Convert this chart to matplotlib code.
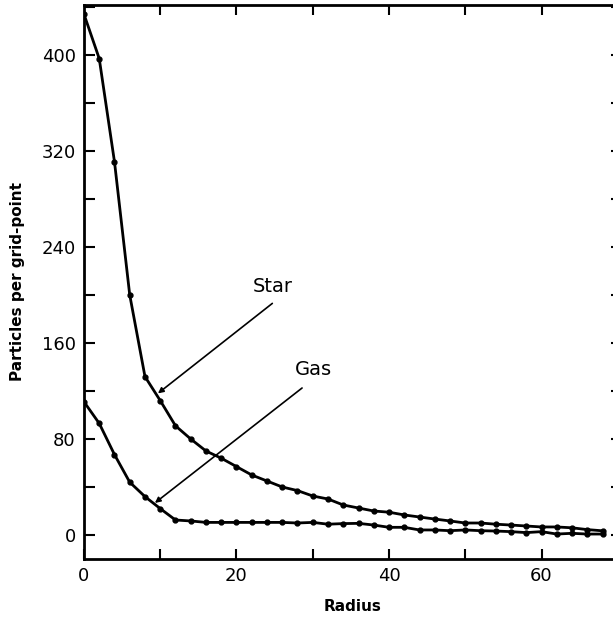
import matplotlib
matplotlib.use("Agg")
import matplotlib.pyplot as plt
import numpy as np

# Radius sampled every 2 grid units
radius = np.arange(0, 70, 2)

# Particles per grid-point
star = [434, 397, 311, 200, 132, 112, 91, 80, 70, 64,
        57, 50, 45, 40, 37, 32.5, 30, 25, 22.5, 20,
        19, 16.7, 15, 13.3, 11.7, 10, 10, 9, 8.3, 7.5,
        6.7, 6.7, 6, 4.5, 3.5]
gas = [111, 93, 67, 44, 32, 22, 12.5, 11.7, 10.5, 10.5,
       10.5, 10.5, 10.5, 10.5, 10, 10.5, 9, 9.5, 9.7, 8.3,
       6.4, 6.4, 4.2, 4.2, 3.6, 4.2, 3.6, 3.3, 2.8, 2,
       2.8, 0.8, 1.4, 0.8, 0.8]

x_major = [0, 20, 40, 60]
y_major = [0, 80, 160, 240, 320, 400]

plt.rcParams['font.family'] = ['DejaVu Sans']

fig = plt.figure(figsize=(6.13, 6.17), dpi=100)
# right spine sits just past the edge of the picture
ax = fig.add_axes([0.137, 0.094, 0.877, 0.898])

for series in (star, gas):
    ax.plot(radius, series, color='black', lw=2, marker='o', ms=3.5,
            markerfacecolor='black', markeredgecolor='black')

ax.set_xlim(0, 70.5)
ax.set_ylim(-20, 441.7)

ax.set_xticks(x_major)
ax.set_xticks(np.arange(10, 70, 20), minor=True)
ax.set_yticks(y_major)
ax.set_yticks(np.arange(40, 441, 80), minor=True)

ax.tick_params(which='both', direction='in', top=False, right=True,
               width=1.5, length=7, labelsize=13, pad=6)
ax.tick_params(axis='y', which='both', length=8)

# top carries ticks every 10, unlabelled
ax2 = ax.twiny()
ax2.set_xlim(ax.get_xlim())
ax2.set_xticks(np.arange(10, 70, 10))
ax2.tick_params(direction='in', length=7, width=1.5, labeltop=False)

for sp in ax.spines.values():
    sp.set_linewidth(2)
for sp in ax2.spines.values():
    sp.set_visible(False)

ax.set_xlabel('Radius', fontsize=11, fontweight='bold', labelpad=10)
ax.set_ylabel('Particles per grid-point', fontsize=11, fontweight='bold',
              labelpad=12)

ax.text(24.8, 207, 'Star', fontsize=14, ha='center', va='center')
ax.text(30.1, 137.5, 'Gas', fontsize=14, ha='center', va='center')

arrow = dict(arrowstyle='-|>', color='black', lw=1.2,
             mutation_scale=8, shrinkA=0, shrinkB=0)
ax.annotate('', xy=(9.7, 118), xytext=(24.7, 193), arrowprops=arrow)
ax.annotate('', xy=(9.3, 26.7), xytext=(28.6, 122.5), arrowprops=arrow)

fig.savefig('out.png', dpi=100)
